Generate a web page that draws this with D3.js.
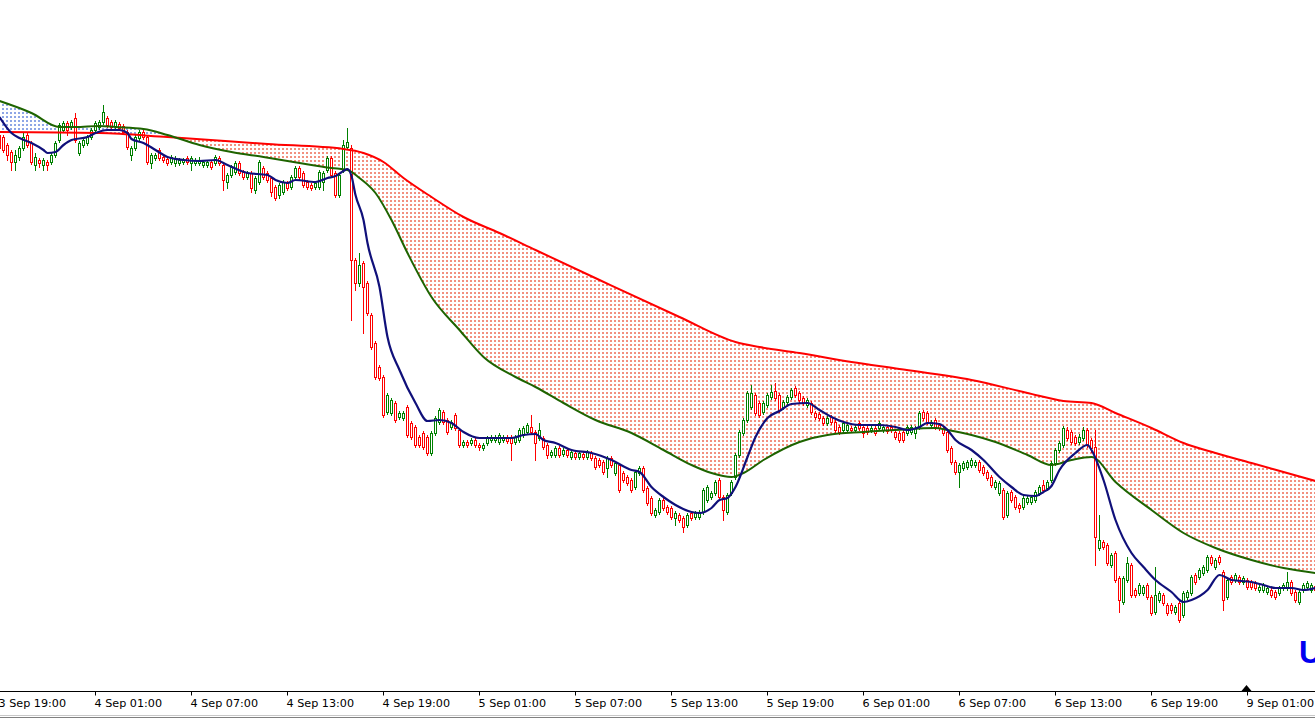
<!DOCTYPE html>
<html><head><meta charset="utf-8">
<script src="https://cdn.jsdelivr.net/npm/d3@7"></script>
<style>html,body{margin:0;padding:0;background:#fff;overflow:hidden}</style>
</head><body><svg id="chart" width="1315" height="720"></svg>
<script>
// ---- time axis (M15 bars, bar 0 = 3 Sep 19:00) ----
const tickBars = [0, 24, 48, 72, 96, 120, 144, 168, 192, 216, 240, 264, 288, 312];
const tickLabels = ["3 Sep 19:00", "4 Sep 01:00", "4 Sep 07:00", "4 Sep 13:00", "4 Sep 19:00",
  "5 Sep 01:00", "5 Sep 07:00", "5 Sep 13:00", "5 Sep 19:00", "6 Sep 01:00", "6 Sep 07:00",
  "6 Sep 13:00", "6 Sep 19:00", "9 Sep 01:00"];

// ---- candles (price units) ----
const open = [865,863,855,848,838,843,852,865,857,835,840,835,838,838,845,860,870,877,873,882,
847,855,857,863,870,873,878,882,878,874,876,874,868,845,852,862,868,863,837,842,
850,843,841,838,837,837,838,842,837,837,837,835,835,838,837,842,835,818,825,828,
837,828,823,827,810,818,832,827,822,813,805,808,817,813,823,832,827,818,815,813,
813,818,830,842,827,805,830,853,852,740,717,737,717,685,657,633,623,588,587,597,
583,582,593,577,573,563,567,563,547,567,578,588,580,573,585,570,555,558,557,560,
555,552,557,560,560,558,560,563,563,558,560,565,568,573,568,562,562,555,545,545,
552,546,550,543,547,543,546,543,547,542,540,538,532,542,527,535,527,523,520,513,
527,532,512,502,485,488,500,493,492,482,485,482,475,487,483,483,488,500,503,507,
520,503,488,507,523,545,567,580,593,605,597,588,595,603,609,605,593,598,603,612,
607,602,595,597,587,586,582,577,583,578,573,570,570,572,570,577,573,572,570,572,
572,570,573,573,568,567,568,567,568,567,573,588,587,575,580,575,572,568,552,538,
528,532,533,535,535,538,533,528,523,513,507,510,485,508,503,495,493,498,498,500,
507,515,512,520,537,550,555,570,568,563,558,562,570,560,553,452,458,455,435,447,
422,398,420,435,410,407,407,415,403,388,400,405,395,395,388,397,385,403,407,425,
423,427,430,443,433,443,428,403,423,420,423,418,420,418,417,410,410,408,410,408,
407,412,412,418,408,398,410,413,410,414];
const high = [868,865,857,850,850,854,867,868,859,847,842,842,840,847,859,877,879,879,880,887,
859,862,865,872,879,880,895,884,880,880,878,876,870,854,865,870,870,865,847,847,
852,845,843,845,844,842,842,844,844,842,843,840,840,840,845,844,837,827,835,839,
839,830,829,829,824,840,834,829,824,815,817,820,819,825,834,834,829,820,817,819,
830,829,844,844,829,827,860,872,855,742,747,739,719,687,659,635,625,607,602,599,
589,589,595,579,575,565,569,565,569,584,592,590,582,580,587,572,560,560,562,562,
557,557,564,565,565,567,565,565,565,565,572,574,577,585,570,577,564,557,550,554,
554,552,552,550,549,549,548,550,549,544,542,540,544,544,539,537,529,525,522,530,
534,534,514,504,492,502,502,495,494,489,487,484,487,489,489,490,512,515,509,520,
522,505,507,520,547,570,582,609,615,607,599,599,607,615,617,607,600,605,612,614,
609,604,602,599,589,588,584,584,585,580,575,579,577,574,575,579,575,574,574,574,
579,575,575,575,570,569,570,575,575,574,589,590,589,580,582,577,574,570,554,540,
537,539,540,542,540,540,535,530,525,520,519,512,509,510,505,497,504,504,505,510,
515,520,520,539,552,559,574,573,570,565,566,573,572,562,570,485,460,457,447,449,
424,424,443,437,412,417,415,417,405,433,409,407,397,397,395,399,409,410,425,427,
432,435,445,445,442,445,430,422,425,427,425,424,422,420,419,415,417,414,412,410,
414,417,428,420,410,410,417,419,417,416];
const low = [850,848,840,830,830,840,850,853,836,830,833,830,830,836,843,858,868,865,871,858,
845,853,855,861,868,871,876,873,871,872,870,866,851,840,850,860,861,836,832,840,
840,838,835,836,834,835,836,836,830,835,835,833,833,831,835,835,810,812,823,826,
825,821,821,808,807,816,821,818,804,800,802,806,810,811,821,821,813,811,810,811,
811,810,828,823,803,803,828,851,680,710,714,667,685,651,621,620,583,586,585,578,
581,580,563,561,553,553,551,545,545,565,576,576,566,571,570,553,553,553,555,553,
550,550,555,558,558,556,558,557,540,556,558,563,566,566,540,560,551,542,543,543,
543,544,543,541,541,541,541,541,540,531,533,526,523,533,525,508,518,515,508,511,
525,508,495,485,483,486,490,486,481,475,478,468,473,480,481,481,486,498,501,505,
501,480,486,505,521,543,565,578,591,585,583,586,593,601,600,588,591,596,601,603,
598,595,593,586,581,580,575,575,576,568,566,568,568,568,568,570,563,566,568,565,
570,568,567,568,561,558,558,565,566,562,571,580,576,573,571,570,565,548,536,526,
513,530,531,533,533,528,525,520,513,511,505,481,483,498,491,488,491,496,496,498,
505,508,510,518,535,548,553,560,556,555,556,560,553,548,435,450,451,435,433,418,
388,396,418,403,403,405,405,401,385,386,398,395,385,387,386,378,383,401,405,416,
421,425,428,435,431,436,390,401,416,418,416,416,411,411,410,408,408,406,403,401,
405,410,410,405,398,396,408,411,408,408];
const close = [852,850,845,838,845,852,863,855,838,843,837,840,835,845,857,875,877,870,878,860,
857,860,863,870,877,878,888,875,873,878,872,868,853,852,863,868,863,838,845,845,
842,840,837,843,842,840,840,838,842,840,840,838,838,833,843,837,820,825,833,837,
827,823,827,812,822,838,823,820,808,802,815,818,812,823,832,823,815,813,812,817,
828,827,842,825,805,825,855,858,740,717,735,713,687,653,623,622,585,605,600,580,
587,587,565,563,555,555,553,547,567,582,590,578,568,578,572,555,558,555,560,555,
553,555,562,563,563,565,563,559,557,563,570,572,575,568,557,570,553,545,548,552,
545,550,545,548,543,547,543,548,542,533,535,528,542,535,537,510,520,517,510,528,
532,510,497,487,490,500,492,488,483,487,480,473,485,482,487,488,510,513,507,518,
503,490,505,518,545,568,580,607,607,587,585,597,605,608,602,590,598,603,610,605,
600,597,600,588,583,582,577,582,578,570,568,577,575,570,573,572,567,568,572,567,
577,573,569,570,563,560,560,573,573,572,587,582,578,578,573,572,567,550,538,528,
535,537,538,540,538,530,527,522,515,518,517,483,507,500,493,492,502,502,503,508,
513,510,518,537,550,557,572,562,558,557,563,570,555,552,463,460,453,437,445,420,
400,422,437,405,405,415,413,403,387,405,407,397,387,390,393,380,407,408,423,418,
430,433,443,437,440,438,400,420,418,425,418,422,413,413,412,413,415,412,405,403,
412,415,418,407,400,408,415,417,415,410];

// ---- moving averages: [bar, value] ----
const maFast = [[0,883],[3,867],[5,862],[8,857],[11,850],[12,847],[14,848],[16,855],[18,860],[22,863],
[24,867],[27,870],[30,870],[32,867],[33,861],[36,857],[39,850],[42,843],[46,840],[50,839],[54,840],
[57,835],[62,827],[67,825],[69,820],[72,817],[74,820],[79,818],[82,822],[84,824],[86,829],[87,831],
[88,824],[89,805],[91,780],[92,757],[95,713],[97,663],[100,630],[104,597],[107,579],[110,580],
[113,577],[116,568],[120,562],[125,562],[128,562],[131,565],[134,566],[136,560],[139,557],[143,550],
[148,547],[153,540],[158,530],[160,528],[163,513],[166,503],[169,495],[173,488],[175,487],[178,492],
[180,500],[182,502],[184,513],[187,543],[189,563],[192,582],[195,589],[198,596],[202,597],[205,590],
[208,583],[211,578],[215,575],[220,575],[224,573],[227,570],[230,573],[232,577],[235,576],[237,570],
[239,560],[243,550],[246,540],[250,523],[253,513],[256,505],[259,504],[261,508],[263,514],[265,530],
[269,547],[272,555],[273,550],[276,520],[279,480],[283,447],[286,433],[289,420],[293,408],[296,398],
[298,400],[302,410],[305,425],[308,420],[313,418],[316,415],[319,412],[323,412],[326,410],[329,412]];
const maMid = [[0,899],[8,887],[15,873],[19,873],[25,874],[29,873],[36,871],[42,865],[50,855],[58,848],
[66,843],[75,837],[83,832],[87,830],[90,822],[94,807],[98,780],[102,747],[108,703],[115,670],
[121,643],[129,623],[134,613],[141,597],[149,580],[158,567],[166,550],[173,535],[178,527],[183,523],
[186,527],[191,540],[200,558],[207,565],[216,568],[224,570],[234,572],[237,570],[243,565],[249,558],
[257,545],[263,535],[268,540],[273,543],[279,518],[288,490],[296,467],[304,452],[313,440],[321,432],
[329,427]];
const maSlow = [[0,868],[25,867],[42,863],[67,856],[86,851],[91,847],[96,838],[101,822],[108,803],
[116,783],[125,767],[134,750],[150,720],[170,683],[184,658],[190,653],[200,647],[213,638],[225,631],
[243,620],[257,607],[266,599],[273,597],[279,587],[288,572],[296,557],[304,547],[313,537],[321,528],
[329,519]];

const watermark = "U";

// ---- layout ----
const W = 1315, H = 720, plotBottom = 690;
const svg = d3.select("#chart");
const x = d3.scaleLinear().domain([0, 329]).range([-0.5, 1315.5]);
const y = d3.scaleLinear().domain([310, 1000]).range([690, 0]);
const curve = d3.curveMonotoneX;
const bars = d3.range(open.length);

const defs = svg.append("defs");
function clip(id, data, toTop) {
  const a = d3.area().curve(curve).x(d => x(d[0])).y0(toTop ? -10 : H + 10).y1(d => y(d[1]));
  defs.append("clipPath").attr("id", id).append("path").attr("d", a(data));
}
clip("belowMid", maMid, false);
clip("aboveMid", maMid, true);
clip("belowSlow", maSlow, false);
clip("aboveSlow", maSlow, true);

// dotted histogram between mid and slow MA: blue where mid above slow, red where below
function dots(outer, inner, color) {
  const g = svg.append("g").attr("clip-path", `url(#${outer})`)
    .append("g").attr("clip-path", `url(#${inner})`);
  g.selectAll("line").data(bars).join("line")
    .attr("x1", i => x(i) - 0.5).attr("x2", i => x(i) - 0.5).attr("y1", 0).attr("y2", plotBottom)
    .attr("stroke", color).attr("stroke-width", 2).attr("stroke-dasharray", "2,2")
    .attr("shape-rendering", "crispEdges");
}
dots("belowMid", "aboveSlow", "#8ea6e6");
dots("belowSlow", "aboveMid", "#f2907f");

// ---- candles ----
const UP = "#008000", DN = "#ff0000";
const cg = svg.append("g");
const col = i => close[i] >= open[i] ? UP : DN;
cg.selectAll("line.wick").data(bars).join("line").attr("class", "wick")
  .attr("x1", i => x(i)).attr("x2", i => x(i))
  .attr("y1", i => Math.round(y(high[i]))).attr("y2", i => Math.round(y(low[i])) + 1)
  .attr("stroke", col).attr("stroke-width", 1);
cg.selectAll("rect.body").data(bars).join("rect").attr("class", "body")
  .attr("x", i => x(i) - 1).attr("width", 2)
  .attr("y", i => Math.round(y(Math.max(open[i], close[i]))) + 0.5)
  .attr("height", i => Math.max(1, Math.round(y(Math.min(open[i], close[i]))) - Math.round(y(Math.max(open[i], close[i])))))
  .attr("fill", "#fff").attr("stroke", col).attr("stroke-width", 1);

// ---- moving averages ----
const line = d3.line().curve(curve).x(d => x(d[0])).y(d => y(d[1]));
svg.append("path").attr("d", line(maSlow)).attr("fill", "none").attr("stroke", "#ff0000").attr("stroke-width", 2);
svg.append("path").attr("d", line(maMid)).attr("fill", "none").attr("stroke", "#1e6400").attr("stroke-width", 2);
svg.append("path").attr("d", line(maFast)).attr("fill", "none").attr("stroke", "#10107a").attr("stroke-width", 2.2);

// ---- time axis ----
const axis = d3.axisBottom(x).tickValues(tickBars).tickFormat((d, k) => tickLabels[k])
  .tickSize(4).tickSizeOuter(0).offset(0);
const ag = svg.append("g").attr("transform", "translate(0,691.5)").call(axis);
ag.select(".domain").remove();
ag.append("line").attr("x1", 0).attr("x2", W).attr("y1", 0).attr("y2", 0).attr("stroke", "#000");
ag.selectAll(".tick line").attr("stroke", "#000");
ag.selectAll(".tick text").attr("text-anchor", "start").attr("x", -1).attr("y", 15).attr("dy", null)
  .attr("fill", "#000").attr("font-family", "DejaVu Sans").attr("font-size", 11.2);
// shift marker
const mx = x(tickBars[tickBars.length - 1]) - 1;
svg.append("path").attr("d", `M${mx - 5},691 L${mx + 5},691 L${mx},685 Z`).attr("fill", "#000");
// bottom frame
svg.append("line").attr("x1", 0).attr("x2", W).attr("y1", 715.5).attr("y2", 715.5).attr("stroke", "#c8c8c8");
svg.append("line").attr("x1", 0).attr("x2", W).attr("y1", 717.5).attr("y2", 717.5).attr("stroke", "#808080");

svg.append("text").attr("x", 1299).attr("y", 663).text(watermark)
  .attr("font-family", "Liberation Sans, Arial, sans-serif").attr("font-weight", "bold")
  .attr("font-size", 32).attr("fill", "#0000f0");
</script></body></html>
